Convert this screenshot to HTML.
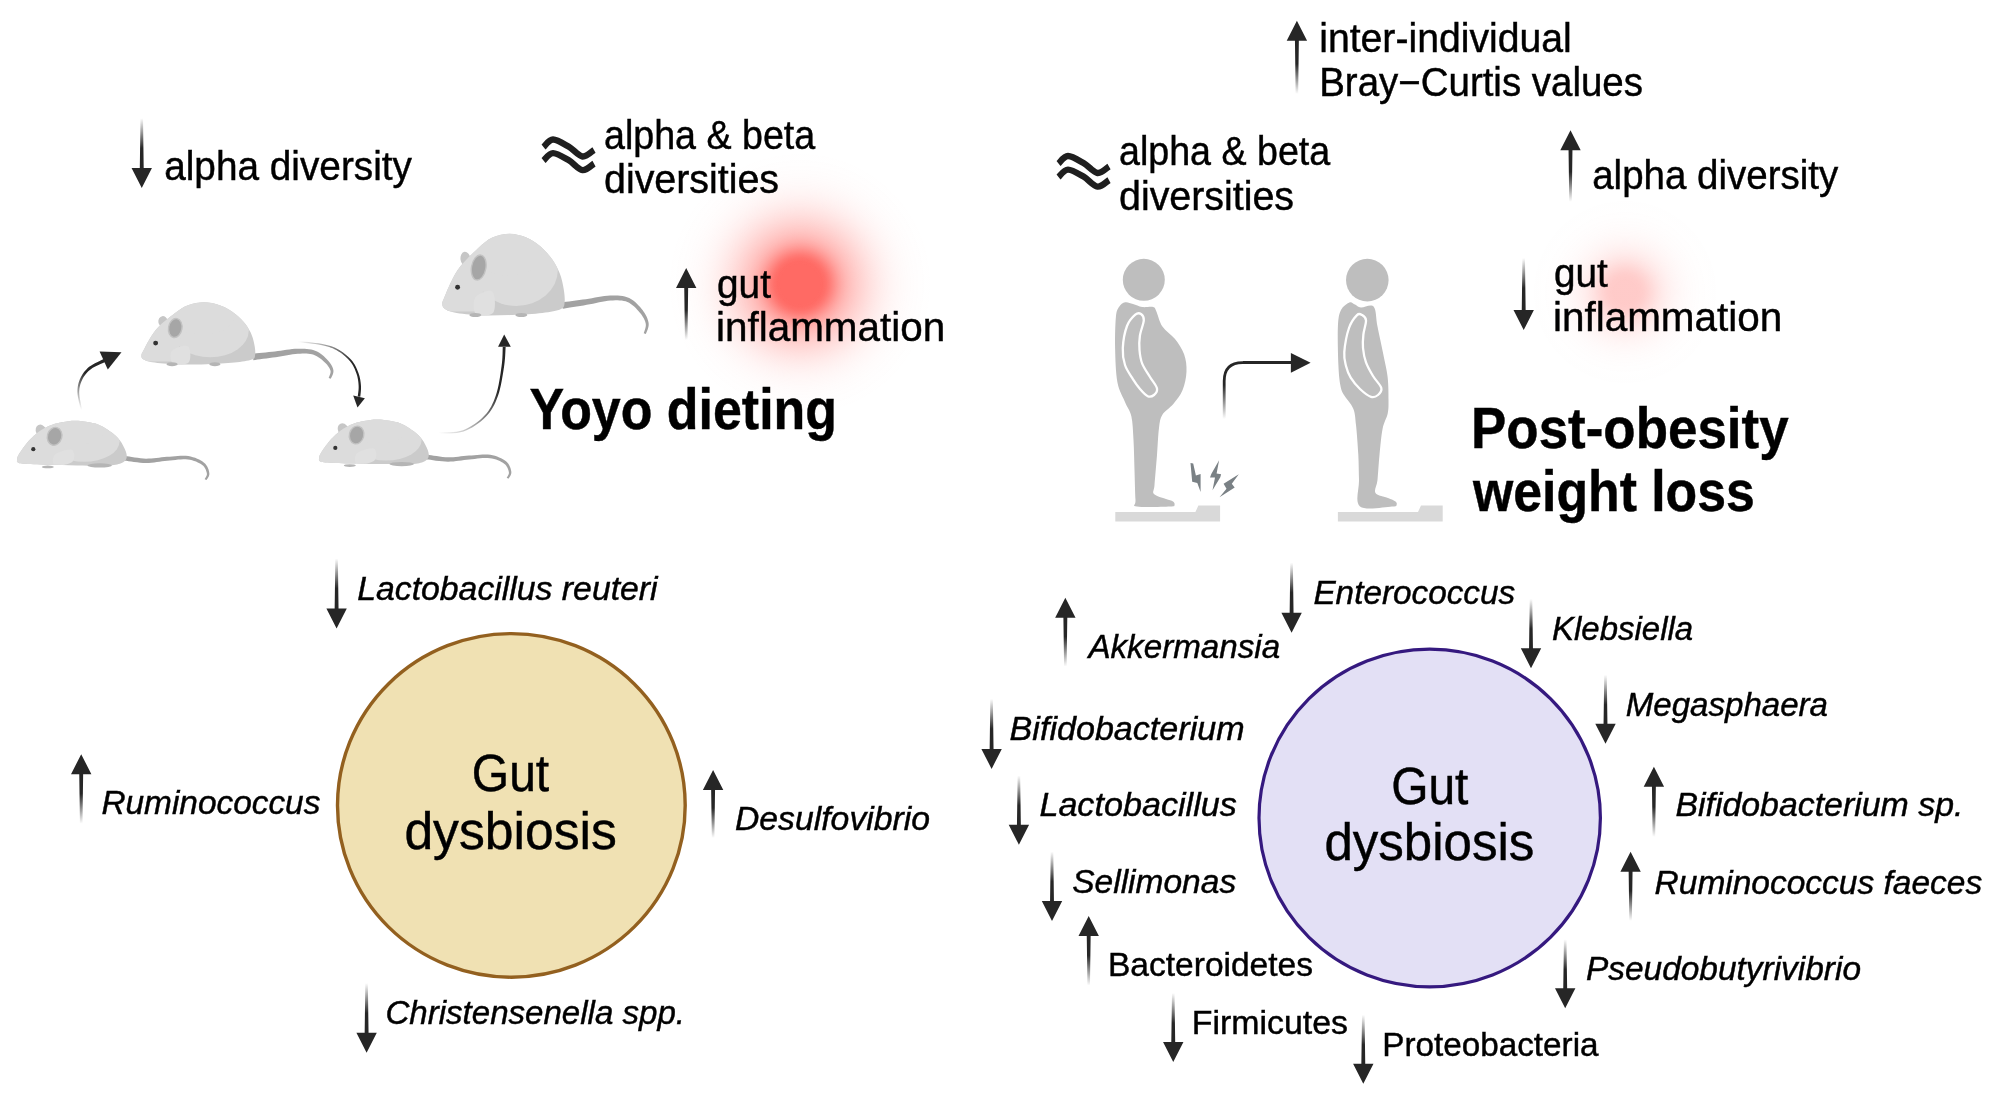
<!DOCTYPE html>
<html><head><meta charset="utf-8"><style>
html,body{margin:0;padding:0;background:#fff;width:2000px;height:1096px;overflow:hidden}
svg{display:block;font-family:"Liberation Sans",sans-serif;will-change:transform}
</style></head><body>
<svg width="2000" height="1096" viewBox="0 0 2000 1096">
<defs>
<radialGradient id="glowL" cx="0.5" cy="0.5" r="0.5">
<stop offset="0.000" stop-color="#ff6a64" stop-opacity="1.000"/>
<stop offset="0.025" stop-color="#ff6a64" stop-opacity="1.000"/>
<stop offset="0.050" stop-color="#ff6a64" stop-opacity="1.000"/>
<stop offset="0.075" stop-color="#ff6a64" stop-opacity="1.000"/>
<stop offset="0.100" stop-color="#ff6a64" stop-opacity="1.000"/>
<stop offset="0.125" stop-color="#ff6a64" stop-opacity="1.000"/>
<stop offset="0.150" stop-color="#ff6a64" stop-opacity="1.000"/>
<stop offset="0.175" stop-color="#ff6a64" stop-opacity="0.994"/>
<stop offset="0.200" stop-color="#ff6a64" stop-opacity="0.955"/>
<stop offset="0.225" stop-color="#ff6a64" stop-opacity="0.885"/>
<stop offset="0.250" stop-color="#ff6a64" stop-opacity="0.798"/>
<stop offset="0.275" stop-color="#ff6a64" stop-opacity="0.707"/>
<stop offset="0.300" stop-color="#ff6a64" stop-opacity="0.622"/>
<stop offset="0.325" stop-color="#ff6a64" stop-opacity="0.549"/>
<stop offset="0.350" stop-color="#ff6a64" stop-opacity="0.487"/>
<stop offset="0.375" stop-color="#ff6a64" stop-opacity="0.436"/>
<stop offset="0.400" stop-color="#ff6a64" stop-opacity="0.392"/>
<stop offset="0.425" stop-color="#ff6a64" stop-opacity="0.353"/>
<stop offset="0.450" stop-color="#ff6a64" stop-opacity="0.317"/>
<stop offset="0.475" stop-color="#ff6a64" stop-opacity="0.283"/>
<stop offset="0.500" stop-color="#ff6a64" stop-opacity="0.251"/>
<stop offset="0.525" stop-color="#ff6a64" stop-opacity="0.220"/>
<stop offset="0.550" stop-color="#ff6a64" stop-opacity="0.192"/>
<stop offset="0.575" stop-color="#ff6a64" stop-opacity="0.166"/>
<stop offset="0.600" stop-color="#ff6a64" stop-opacity="0.142"/>
<stop offset="0.625" stop-color="#ff6a64" stop-opacity="0.120"/>
<stop offset="0.650" stop-color="#ff6a64" stop-opacity="0.101"/>
<stop offset="0.675" stop-color="#ff6a64" stop-opacity="0.084"/>
<stop offset="0.700" stop-color="#ff6a64" stop-opacity="0.069"/>
<stop offset="0.725" stop-color="#ff6a64" stop-opacity="0.056"/>
<stop offset="0.750" stop-color="#ff6a64" stop-opacity="0.046"/>
<stop offset="0.775" stop-color="#ff6a64" stop-opacity="0.037"/>
<stop offset="0.800" stop-color="#ff6a64" stop-opacity="0.029"/>
<stop offset="0.825" stop-color="#ff6a64" stop-opacity="0.023"/>
<stop offset="0.850" stop-color="#ff6a64" stop-opacity="0.018"/>
<stop offset="0.875" stop-color="#ff6a64" stop-opacity="0.014"/>
<stop offset="0.900" stop-color="#ff6a64" stop-opacity="0.011"/>
<stop offset="0.925" stop-color="#ff6a64" stop-opacity="0.008"/>
<stop offset="0.950" stop-color="#ff6a64" stop-opacity="0.006"/>
<stop offset="0.975" stop-color="#ff6a64" stop-opacity="0.005"/>
<stop offset="1.000" stop-color="#ff6a64" stop-opacity="0.003"/>
</radialGradient>
<radialGradient id="glowR" cx="0.5" cy="0.5" r="0.5">
<stop offset="0.000" stop-color="#ff6e69" stop-opacity="0.360"/>
<stop offset="0.025" stop-color="#ff6e69" stop-opacity="0.360"/>
<stop offset="0.050" stop-color="#ff6e69" stop-opacity="0.360"/>
<stop offset="0.075" stop-color="#ff6e69" stop-opacity="0.360"/>
<stop offset="0.100" stop-color="#ff6e69" stop-opacity="0.360"/>
<stop offset="0.125" stop-color="#ff6e69" stop-opacity="0.358"/>
<stop offset="0.150" stop-color="#ff6e69" stop-opacity="0.347"/>
<stop offset="0.175" stop-color="#ff6e69" stop-opacity="0.328"/>
<stop offset="0.200" stop-color="#ff6e69" stop-opacity="0.302"/>
<stop offset="0.225" stop-color="#ff6e69" stop-opacity="0.273"/>
<stop offset="0.250" stop-color="#ff6e69" stop-opacity="0.242"/>
<stop offset="0.275" stop-color="#ff6e69" stop-opacity="0.211"/>
<stop offset="0.300" stop-color="#ff6e69" stop-opacity="0.182"/>
<stop offset="0.325" stop-color="#ff6e69" stop-opacity="0.157"/>
<stop offset="0.350" stop-color="#ff6e69" stop-opacity="0.134"/>
<stop offset="0.375" stop-color="#ff6e69" stop-opacity="0.114"/>
<stop offset="0.400" stop-color="#ff6e69" stop-opacity="0.097"/>
<stop offset="0.425" stop-color="#ff6e69" stop-opacity="0.082"/>
<stop offset="0.450" stop-color="#ff6e69" stop-opacity="0.069"/>
<stop offset="0.475" stop-color="#ff6e69" stop-opacity="0.058"/>
<stop offset="0.500" stop-color="#ff6e69" stop-opacity="0.048"/>
<stop offset="0.525" stop-color="#ff6e69" stop-opacity="0.040"/>
<stop offset="0.550" stop-color="#ff6e69" stop-opacity="0.032"/>
<stop offset="0.575" stop-color="#ff6e69" stop-opacity="0.026"/>
<stop offset="0.600" stop-color="#ff6e69" stop-opacity="0.021"/>
<stop offset="0.625" stop-color="#ff6e69" stop-opacity="0.017"/>
<stop offset="0.650" stop-color="#ff6e69" stop-opacity="0.013"/>
<stop offset="0.675" stop-color="#ff6e69" stop-opacity="0.010"/>
<stop offset="0.700" stop-color="#ff6e69" stop-opacity="0.008"/>
<stop offset="0.725" stop-color="#ff6e69" stop-opacity="0.006"/>
<stop offset="0.750" stop-color="#ff6e69" stop-opacity="0.004"/>
<stop offset="0.775" stop-color="#ff6e69" stop-opacity="0.003"/>
<stop offset="0.800" stop-color="#ff6e69" stop-opacity="0.002"/>
<stop offset="0.825" stop-color="#ff6e69" stop-opacity="0.002"/>
<stop offset="0.850" stop-color="#ff6e69" stop-opacity="0.001"/>
<stop offset="0.875" stop-color="#ff6e69" stop-opacity="0.001"/>
<stop offset="0.900" stop-color="#ff6e69" stop-opacity="0.001"/>
<stop offset="0.925" stop-color="#ff6e69" stop-opacity="0.000"/>
<stop offset="0.950" stop-color="#ff6e69" stop-opacity="0.000"/>
<stop offset="0.975" stop-color="#ff6e69" stop-opacity="0.000"/>
<stop offset="1.000" stop-color="#ff6e69" stop-opacity="0.000"/>
</radialGradient>
</defs>
<circle cx="800" cy="284" r="130" fill="url(#glowL)"/>
<circle cx="1625" cy="292" r="110" fill="url(#glowR)"/>
<ellipse cx="511.35" cy="805.4" rx="173.85" ry="171.8" fill="#f0e1b3" stroke="#93601f" stroke-width="3.4"/>
<ellipse cx="1429.7" cy="818" rx="170.7" ry="168.8" fill="#e3e0f5" stroke="#35197f" stroke-width="3.2"/>
<path d="M543.50,147.00 C545.08,145.75 548.83,139.58 553.00,139.50 C557.17,139.42 563.58,143.67 568.50,146.50 C573.42,149.33 578.25,155.92 582.50,156.50 C586.75,157.08 592.08,151.08 594.00,150.00" fill="none" stroke="#1f1f1f" stroke-width="6.4" stroke-linecap="butt"/>
<path d="M543.50,160.60 C545.08,159.35 548.83,153.18 553.00,153.10 C557.17,153.02 563.58,157.27 568.50,160.10 C573.42,162.93 578.25,169.52 582.50,170.10 C586.75,170.68 592.08,164.68 594.00,163.60" fill="none" stroke="#1f1f1f" stroke-width="6.4" stroke-linecap="butt"/>
<path d="M1058.50,163.50 C1060.08,162.25 1063.83,156.08 1068.00,156.00 C1072.17,155.92 1078.58,160.17 1083.50,163.00 C1088.42,165.83 1093.25,172.42 1097.50,173.00 C1101.75,173.58 1107.08,167.58 1109.00,166.50" fill="none" stroke="#1f1f1f" stroke-width="6.4" stroke-linecap="butt"/>
<path d="M1058.50,177.10 C1060.08,175.85 1063.83,169.68 1068.00,169.60 C1072.17,169.52 1078.58,173.77 1083.50,176.60 C1088.42,179.43 1093.25,186.02 1097.50,186.60 C1101.75,187.18 1107.08,181.18 1109.00,180.10" fill="none" stroke="#1f1f1f" stroke-width="6.4" stroke-linecap="butt"/>
<clipPath id="clip_m1"><path d="M17.10,459.80 C17.27,458.55 16.93,457.63 18.60,454.80 C20.27,451.97 24.20,446.27 27.10,442.80 C30.00,439.33 32.50,436.75 36.00,434.00 C39.50,431.25 43.80,428.25 48.10,426.30 C52.40,424.35 57.32,423.22 61.80,422.30 C66.28,421.38 70.45,420.80 75.00,420.80 C79.55,420.80 84.60,421.40 89.10,422.30 C93.60,423.20 97.35,423.75 102.00,426.20 C106.65,428.65 113.20,433.20 117.00,437.00 C120.80,440.80 123.20,445.50 124.80,449.00 C126.40,452.50 127.22,455.62 126.60,458.00 C125.98,460.38 124.35,462.03 121.10,463.30 C117.85,464.57 114.43,465.25 107.10,465.60 C99.77,465.95 87.10,465.53 77.10,465.40 C67.10,465.27 56.10,465.07 47.10,464.80 C38.10,464.53 28.02,464.22 23.10,463.80 C18.18,463.38 18.60,462.97 17.60,462.30 C16.60,461.63 16.93,461.05 17.10,459.80 Z"/></clipPath>
<polygon points="124.77,460.68 126.38,460.87 128.52,461.17 131.09,461.54 133.97,461.94 137.02,462.32 140.14,462.65 143.19,462.88 146.07,462.97 148.81,462.89 151.52,462.69 154.20,462.40 156.86,462.05 159.49,461.68 162.09,461.31 164.67,460.99 167.27,460.73 169.94,460.48 172.67,460.18 175.41,459.88 178.12,459.61 180.75,459.40 183.28,459.29 185.67,459.31 187.88,459.49 189.99,459.83 192.07,460.31 194.08,460.91 195.99,461.61 197.79,462.38 199.44,463.22 200.92,464.08 202.18,464.95 203.22,465.84 204.10,466.84 204.84,467.94 205.47,469.09 205.97,470.27 206.37,471.42 206.67,472.51 206.87,473.44 206.93,474.19 206.81,474.93 206.55,475.72 206.18,476.50 205.76,477.26 205.34,477.97 204.96,478.61 204.71,479.13 206.49,480.07 206.73,479.66 207.11,479.12 207.61,478.42 208.14,477.58 208.65,476.63 209.08,475.56 209.33,474.38 209.33,473.16 209.14,471.97 208.85,470.72 208.46,469.37 207.92,467.97 207.23,466.56 206.36,465.17 205.29,463.84 204.02,462.65 202.57,461.58 200.94,460.56 199.15,459.59 197.21,458.68 195.13,457.86 192.95,457.14 190.67,456.56 188.32,456.11 185.86,455.86 183.26,455.78 180.57,455.83 177.83,455.99 175.07,456.21 172.31,456.45 169.60,456.68 166.93,456.87 164.28,457.08 161.61,457.36 158.96,457.67 156.34,457.98 153.75,458.27 151.18,458.49 148.64,458.62 146.13,458.63 143.47,458.49 140.58,458.22 137.58,457.85 134.61,457.41 131.78,456.97 129.23,456.54 127.06,456.18 125.43,455.92" fill="#a2a2a2"/>
<ellipse cx="41.10" cy="430.80" rx="5.20" ry="6.40" transform="rotate(-25 41.10 430.80)" fill="#c6c6c6"/>
<path d="M17.10,459.80 C17.27,458.55 16.93,457.63 18.60,454.80 C20.27,451.97 24.20,446.27 27.10,442.80 C30.00,439.33 32.50,436.75 36.00,434.00 C39.50,431.25 43.80,428.25 48.10,426.30 C52.40,424.35 57.32,423.22 61.80,422.30 C66.28,421.38 70.45,420.80 75.00,420.80 C79.55,420.80 84.60,421.40 89.10,422.30 C93.60,423.20 97.35,423.75 102.00,426.20 C106.65,428.65 113.20,433.20 117.00,437.00 C120.80,440.80 123.20,445.50 124.80,449.00 C126.40,452.50 127.22,455.62 126.60,458.00 C125.98,460.38 124.35,462.03 121.10,463.30 C117.85,464.57 114.43,465.25 107.10,465.60 C99.77,465.95 87.10,465.53 77.10,465.40 C67.10,465.27 56.10,465.07 47.10,464.80 C38.10,464.53 28.02,464.22 23.10,463.80 C18.18,463.38 18.60,462.97 17.60,462.30 C16.60,461.63 16.93,461.05 17.10,459.80 Z" fill="#cbcbcb"/>
<g clip-path="url(#clip_m1)">
<ellipse cx="84.10" cy="441.30" rx="35.50" ry="20.50" fill="#dcdcdc"/>
<ellipse cx="76.10" cy="432.07" rx="28.40" ry="12.30" fill="#dcdcdc"/>
<path d="M12.10,457.80 L37.10,379.80 L65.10,379.80 L57.10,453.80 L53.10,467.80 L12.10,467.80 Z" fill="#dcdcdc"/>
<path d="M55.00,454.50 C57.80,451.90 68.90,448.50 71.80,449.70 C74.70,450.90 75.20,459.10 72.40,461.70 C69.60,464.30 57.90,466.50 55.00,465.30 C52.10,464.10 52.20,457.10 55.00,454.50 Z" fill="#e0e0e0"/>
</g>
<ellipse cx="54.60" cy="436.30" rx="7.20" ry="9.00" transform="rotate(15 54.60 436.30)" fill="#a6a6a6" stroke="#c2c2c2" stroke-width="1.4"/>
<ellipse cx="47.80" cy="466.90" rx="6.00" ry="1.40" fill="#b5b5b5"/>
<ellipse cx="99.70" cy="465.40" rx="12.30" ry="2.10" fill="#b5b5b5"/>
<circle cx="33.30" cy="449.20" r="2.10" fill="#333"/>
<clipPath id="clip_m3"><path d="M319.10,458.50 C319.27,457.25 318.93,456.33 320.60,453.50 C322.27,450.67 326.20,444.97 329.10,441.50 C332.00,438.03 334.50,435.45 338.00,432.70 C341.50,429.95 345.80,426.95 350.10,425.00 C354.40,423.05 359.32,421.92 363.80,421.00 C368.28,420.08 372.45,419.50 377.00,419.50 C381.55,419.50 386.60,420.10 391.10,421.00 C395.60,421.90 399.35,422.45 404.00,424.90 C408.65,427.35 415.20,431.90 419.00,435.70 C422.80,439.50 425.20,444.20 426.80,447.70 C428.40,451.20 429.22,454.32 428.60,456.70 C427.98,459.08 426.35,460.73 423.10,462.00 C419.85,463.27 416.43,463.95 409.10,464.30 C401.77,464.65 389.10,464.23 379.10,464.10 C369.10,463.97 358.10,463.77 349.10,463.50 C340.10,463.23 330.02,462.92 325.10,462.50 C320.18,462.08 320.60,461.67 319.60,461.00 C318.60,460.33 318.93,459.75 319.10,458.50 Z"/></clipPath>
<polygon points="426.77,459.38 428.38,459.57 430.52,459.87 433.09,460.24 435.97,460.64 439.02,461.02 442.14,461.35 445.19,461.58 448.07,461.67 450.81,461.59 453.52,461.39 456.20,461.10 458.86,460.75 461.49,460.38 464.09,460.01 466.67,459.69 469.27,459.43 471.94,459.18 474.67,458.88 477.41,458.58 480.12,458.31 482.75,458.10 485.28,457.99 487.67,458.01 489.88,458.19 491.99,458.53 494.07,459.01 496.08,459.61 497.99,460.31 499.79,461.08 501.44,461.92 502.92,462.78 504.18,463.65 505.22,464.54 506.10,465.54 506.84,466.64 507.47,467.79 507.97,468.97 508.37,470.12 508.67,471.21 508.87,472.14 508.93,472.89 508.81,473.63 508.55,474.42 508.18,475.20 507.76,475.96 507.34,476.67 506.96,477.31 506.71,477.83 508.49,478.77 508.73,478.36 509.11,477.82 509.61,477.12 510.14,476.28 510.65,475.33 511.08,474.26 511.33,473.08 511.33,471.86 511.14,470.67 510.85,469.42 510.46,468.07 509.92,466.67 509.23,465.26 508.36,463.87 507.29,462.54 506.02,461.35 504.57,460.28 502.94,459.26 501.15,458.29 499.21,457.38 497.13,456.56 494.95,455.84 492.67,455.26 490.32,454.81 487.86,454.56 485.26,454.48 482.57,454.53 479.83,454.69 477.07,454.91 474.31,455.15 471.60,455.38 468.93,455.57 466.28,455.78 463.61,456.06 460.96,456.37 458.34,456.68 455.75,456.97 453.18,457.19 450.64,457.32 448.13,457.33 445.47,457.19 442.58,456.92 439.58,456.55 436.61,456.11 433.78,455.67 431.23,455.24 429.06,454.88 427.43,454.62" fill="#a2a2a2"/>
<ellipse cx="343.10" cy="429.50" rx="5.20" ry="6.40" transform="rotate(-25 343.10 429.50)" fill="#c6c6c6"/>
<path d="M319.10,458.50 C319.27,457.25 318.93,456.33 320.60,453.50 C322.27,450.67 326.20,444.97 329.10,441.50 C332.00,438.03 334.50,435.45 338.00,432.70 C341.50,429.95 345.80,426.95 350.10,425.00 C354.40,423.05 359.32,421.92 363.80,421.00 C368.28,420.08 372.45,419.50 377.00,419.50 C381.55,419.50 386.60,420.10 391.10,421.00 C395.60,421.90 399.35,422.45 404.00,424.90 C408.65,427.35 415.20,431.90 419.00,435.70 C422.80,439.50 425.20,444.20 426.80,447.70 C428.40,451.20 429.22,454.32 428.60,456.70 C427.98,459.08 426.35,460.73 423.10,462.00 C419.85,463.27 416.43,463.95 409.10,464.30 C401.77,464.65 389.10,464.23 379.10,464.10 C369.10,463.97 358.10,463.77 349.10,463.50 C340.10,463.23 330.02,462.92 325.10,462.50 C320.18,462.08 320.60,461.67 319.60,461.00 C318.60,460.33 318.93,459.75 319.10,458.50 Z" fill="#cbcbcb"/>
<g clip-path="url(#clip_m3)">
<ellipse cx="386.10" cy="440.00" rx="35.50" ry="20.50" fill="#dcdcdc"/>
<ellipse cx="378.10" cy="430.77" rx="28.40" ry="12.30" fill="#dcdcdc"/>
<path d="M314.10,456.50 L339.10,378.50 L367.10,378.50 L359.10,452.50 L355.10,466.50 L314.10,466.50 Z" fill="#dcdcdc"/>
<path d="M357.00,453.20 C359.80,450.60 370.90,447.20 373.80,448.40 C376.70,449.60 377.20,457.80 374.40,460.40 C371.60,463.00 359.90,465.20 357.00,464.00 C354.10,462.80 354.20,455.80 357.00,453.20 Z" fill="#e0e0e0"/>
</g>
<ellipse cx="356.60" cy="435.00" rx="7.20" ry="9.00" transform="rotate(15 356.60 435.00)" fill="#a6a6a6" stroke="#c2c2c2" stroke-width="1.4"/>
<ellipse cx="349.80" cy="465.60" rx="6.00" ry="1.40" fill="#b5b5b5"/>
<ellipse cx="401.70" cy="464.10" rx="12.30" ry="2.10" fill="#b5b5b5"/>
<circle cx="335.30" cy="447.90" r="2.10" fill="#333"/>
<clipPath id="clip_m4"><path d="M442.30,303.50 C442.30,301.67 442.80,301.17 444.30,297.50 C445.80,293.83 448.58,286.73 451.30,281.50 C454.02,276.27 456.17,271.60 460.60,266.10 C465.03,260.60 472.62,253.27 477.90,248.50 C483.18,243.73 486.98,239.97 492.30,237.50 C497.62,235.03 504.13,233.70 509.80,233.70 C515.47,233.70 521.27,235.45 526.30,237.50 C531.33,239.55 535.67,242.33 540.00,246.00 C544.33,249.67 549.00,254.92 552.30,259.50 C555.60,264.08 557.90,268.60 559.80,273.50 C561.70,278.40 562.90,284.05 563.70,288.90 C564.50,293.75 565.05,299.25 564.60,302.60 C564.15,305.95 564.72,307.27 561.00,309.00 C557.28,310.73 550.42,312.00 542.30,313.00 C534.18,314.00 522.58,314.60 512.30,315.00 C502.02,315.40 490.27,315.82 480.60,315.40 C470.93,314.98 460.35,313.65 454.30,312.50 C448.25,311.35 446.30,310.00 444.30,308.50 C442.30,307.00 442.30,305.33 442.30,303.50 Z"/></clipPath>
<polygon points="562.76,308.72 564.61,308.41 567.06,308.01 569.98,307.55 573.24,307.04 576.68,306.50 580.17,305.94 583.57,305.39 586.76,304.85 589.85,304.28 592.98,303.65 596.10,302.98 599.19,302.32 602.20,301.71 605.11,301.18 607.86,300.78 610.45,300.53 612.94,300.39 615.34,300.30 617.62,300.29 619.78,300.38 621.83,300.57 623.78,300.90 625.64,301.36 627.42,301.99 629.14,302.82 630.85,303.89 632.54,305.16 634.18,306.57 635.76,308.08 637.24,309.63 638.62,311.17 639.88,312.63 641.00,314.03 642.02,315.44 642.93,316.88 643.74,318.31 644.44,319.73 645.01,321.12 645.45,322.45 645.75,323.69 645.87,324.89 645.78,326.18 645.52,327.54 645.15,328.90 644.73,330.20 644.32,331.40 643.96,332.45 643.75,333.27 645.85,333.93 646.12,333.22 646.54,332.26 647.05,331.07 647.58,329.70 648.08,328.21 648.48,326.61 648.69,324.96 648.65,323.31 648.37,321.72 647.94,320.13 647.38,318.51 646.68,316.86 645.86,315.22 644.92,313.58 643.87,311.95 642.72,310.37 641.47,308.78 640.09,307.10 638.57,305.38 636.93,303.68 635.17,302.03 633.28,300.50 631.29,299.14 629.18,298.01 627.02,297.14 624.80,296.49 622.53,296.01 620.20,295.69 617.80,295.50 615.34,295.41 612.80,295.41 610.15,295.47 607.32,295.65 604.34,296.00 601.28,296.46 598.16,296.99 595.03,297.57 591.91,298.14 588.84,298.68 585.84,299.15 582.70,299.58 579.30,300.04 575.81,300.51 572.36,300.96 569.10,301.38 566.17,301.75 563.70,302.06 561.84,302.28" fill="#a2a2a2"/>
<ellipse cx="465.50" cy="259.00" rx="5.00" ry="7.20" transform="rotate(-8 465.50 259.00)" fill="#c6c6c6"/>
<path d="M442.30,303.50 C442.30,301.67 442.80,301.17 444.30,297.50 C445.80,293.83 448.58,286.73 451.30,281.50 C454.02,276.27 456.17,271.60 460.60,266.10 C465.03,260.60 472.62,253.27 477.90,248.50 C483.18,243.73 486.98,239.97 492.30,237.50 C497.62,235.03 504.13,233.70 509.80,233.70 C515.47,233.70 521.27,235.45 526.30,237.50 C531.33,239.55 535.67,242.33 540.00,246.00 C544.33,249.67 549.00,254.92 552.30,259.50 C555.60,264.08 557.90,268.60 559.80,273.50 C561.70,278.40 562.90,284.05 563.70,288.90 C564.50,293.75 565.05,299.25 564.60,302.60 C564.15,305.95 564.72,307.27 561.00,309.00 C557.28,310.73 550.42,312.00 542.30,313.00 C534.18,314.00 522.58,314.60 512.30,315.00 C502.02,315.40 490.27,315.82 480.60,315.40 C470.93,314.98 460.35,313.65 454.30,312.50 C448.25,311.35 446.30,310.00 444.30,308.50 C442.30,307.00 442.30,305.33 442.30,303.50 Z" fill="#cbcbcb"/>
<g clip-path="url(#clip_m4)">
<ellipse cx="516.30" cy="270.50" rx="41.50" ry="35.50" fill="#dcdcdc"/>
<ellipse cx="508.30" cy="254.53" rx="33.20" ry="21.30" fill="#dcdcdc"/>
<path d="M437.30,301.50 L462.30,223.50 L490.30,223.50 L482.30,297.50 L478.30,311.50 L437.30,311.50 Z" fill="#dcdcdc"/>
<path d="M475.30,297.50 C477.97,293.67 489.30,289.00 492.30,291.50 C495.30,294.00 495.97,308.67 493.30,312.50 C490.63,316.33 479.30,317.00 476.30,314.50 C473.30,312.00 472.63,301.33 475.30,297.50 Z" fill="#e0e0e0"/>
</g>
<ellipse cx="478.70" cy="267.50" rx="7.20" ry="12.60" transform="rotate(10 478.70 267.50)" fill="#a6a6a6" stroke="#c2c2c2" stroke-width="1.4"/>
<ellipse cx="475.30" cy="315.00" rx="6.00" ry="2.00" fill="#b5b5b5"/>
<ellipse cx="521.30" cy="315.00" rx="6.00" ry="2.00" fill="#b5b5b5"/>
<circle cx="457.60" cy="287.30" r="2.45" fill="#333"/>
<clipPath id="clip_m2"><path d="M141.40,355.40 C141.40,354.01 141.87,353.63 143.26,350.84 C144.66,348.05 147.24,342.66 149.77,338.68 C152.30,334.70 154.30,331.16 158.42,326.98 C162.54,322.80 169.59,317.22 174.51,313.60 C179.42,309.98 182.96,307.11 187.90,305.24 C192.84,303.37 198.91,302.35 204.18,302.35 C209.45,302.35 214.84,303.68 219.52,305.24 C224.20,306.80 228.23,308.91 232.26,311.70 C236.29,314.49 240.63,318.48 243.70,321.96 C246.77,325.44 248.91,328.88 250.68,332.60 C252.44,336.32 253.56,340.62 254.30,344.30 C255.05,347.99 255.56,352.17 255.14,354.72 C254.72,357.26 255.25,358.26 251.79,359.58 C248.33,360.90 241.95,361.86 234.40,362.62 C226.85,363.38 216.06,363.84 206.50,364.14 C196.94,364.44 186.01,364.76 177.02,364.44 C168.03,364.13 158.19,363.11 152.56,362.24 C146.93,361.37 145.12,360.34 143.26,359.20 C141.40,358.06 141.40,356.79 141.40,355.40 Z"/></clipPath>
<polygon points="253.38,360.15 255.09,359.90 257.38,359.59 260.10,359.23 263.12,358.83 266.33,358.41 269.57,357.97 272.74,357.54 275.70,357.13 278.56,356.68 281.47,356.19 284.38,355.67 287.25,355.16 290.06,354.68 292.77,354.27 295.34,353.95 297.76,353.75 300.09,353.63 302.33,353.55 304.46,353.54 306.48,353.59 308.40,353.73 310.23,353.97 311.98,354.32 313.64,354.78 315.24,355.41 316.83,356.21 318.39,357.15 319.91,358.21 321.36,359.34 322.73,360.50 324.01,361.65 325.16,362.74 326.20,363.78 327.13,364.83 327.97,365.89 328.71,366.95 329.34,367.99 329.85,369.00 330.25,369.97 330.52,370.83 330.62,371.64 330.55,372.53 330.33,373.52 330.00,374.53 329.61,375.51 329.23,376.42 328.90,377.24 328.70,377.88 330.75,378.67 331.00,378.15 331.38,377.44 331.86,376.54 332.37,375.49 332.85,374.32 333.23,373.07 333.44,371.72 333.40,370.37 333.12,369.08 332.71,367.82 332.17,366.55 331.51,365.26 330.73,363.98 329.85,362.70 328.85,361.44 327.78,360.22 326.60,358.99 325.31,357.69 323.89,356.37 322.35,355.06 320.70,353.79 318.94,352.61 317.07,351.56 315.12,350.70 313.12,350.03 311.07,349.52 308.98,349.15 306.82,348.90 304.60,348.74 302.32,348.67 299.97,348.65 297.52,348.69 294.90,348.82 292.14,349.06 289.30,349.40 286.41,349.80 283.49,350.23 280.59,350.65 277.73,351.05 274.94,351.39 272.02,351.71 268.86,352.05 265.61,352.40 262.41,352.73 259.37,353.04 256.65,353.31 254.35,353.53 252.62,353.69" fill="#a2a2a2"/>
<ellipse cx="162.98" cy="321.58" rx="4.65" ry="5.47" transform="rotate(-8 162.98 321.58)" fill="#c6c6c6"/>
<path d="M141.40,355.40 C141.40,354.01 141.87,353.63 143.26,350.84 C144.66,348.05 147.24,342.66 149.77,338.68 C152.30,334.70 154.30,331.16 158.42,326.98 C162.54,322.80 169.59,317.22 174.51,313.60 C179.42,309.98 182.96,307.11 187.90,305.24 C192.84,303.37 198.91,302.35 204.18,302.35 C209.45,302.35 214.84,303.68 219.52,305.24 C224.20,306.80 228.23,308.91 232.26,311.70 C236.29,314.49 240.63,318.48 243.70,321.96 C246.77,325.44 248.91,328.88 250.68,332.60 C252.44,336.32 253.56,340.62 254.30,344.30 C255.05,347.99 255.56,352.17 255.14,354.72 C254.72,357.26 255.25,358.26 251.79,359.58 C248.33,360.90 241.95,361.86 234.40,362.62 C226.85,363.38 216.06,363.84 206.50,364.14 C196.94,364.44 186.01,364.76 177.02,364.44 C168.03,364.13 158.19,363.11 152.56,362.24 C146.93,361.37 145.12,360.34 143.26,359.20 C141.40,358.06 141.40,356.79 141.40,355.40 Z" fill="#cbcbcb"/>
<g clip-path="url(#clip_m2)">
<ellipse cx="210.22" cy="330.32" rx="38.59" ry="26.98" fill="#dcdcdc"/>
<ellipse cx="202.78" cy="318.18" rx="30.88" ry="16.19" fill="#dcdcdc"/>
<path d="M136.75,353.88 L160.00,294.60 L186.04,294.60 L178.60,350.84 L174.88,361.48 L136.75,361.48 Z" fill="#dcdcdc"/>
<path d="M172.09,350.84 C174.57,347.93 185.11,344.38 187.90,346.28 C190.69,348.18 191.31,359.33 188.83,362.24 C186.35,365.15 175.81,365.66 173.02,363.76 C170.23,361.86 169.61,353.75 172.09,350.84 Z" fill="#e0e0e0"/>
</g>
<ellipse cx="175.25" cy="328.04" rx="6.70" ry="9.58" transform="rotate(10 175.25 328.04)" fill="#a6a6a6" stroke="#c2c2c2" stroke-width="1.4"/>
<ellipse cx="172.09" cy="364.14" rx="5.58" ry="2.00" fill="#b5b5b5"/>
<ellipse cx="214.87" cy="364.14" rx="5.58" ry="2.00" fill="#b5b5b5"/>
<circle cx="155.63" cy="343.09" r="2.45" fill="#333"/>
<linearGradient id="ca1" gradientUnits="userSpaceOnUse" x1="81.40" y1="409.80" x2="96.41" y2="377.75"><stop offset="0" stop-color="#262626" stop-opacity="0"/><stop offset="1" stop-color="#262626" stop-opacity="1"/></linearGradient>
<polygon points="81.99,409.68 81.74,408.26 81.35,406.35 80.87,404.09 80.37,401.59 79.90,399.00 79.50,396.45 79.24,394.07 79.17,391.99 79.27,390.14 79.47,388.37 79.77,386.67 80.16,385.04 80.63,383.46 81.19,381.94 81.83,380.46 82.53,379.01 83.30,377.60 84.14,376.24 85.06,374.94 86.05,373.68 87.12,372.47 88.28,371.31 89.53,370.19 90.86,369.14 92.41,368.10 94.27,367.04 96.33,366.00 98.45,365.01 100.52,364.08 102.43,363.26 104.04,362.57 105.24,362.03 103.76,358.97 102.64,359.55 101.08,360.29 99.20,361.18 97.11,362.18 94.95,363.27 92.82,364.43 90.84,365.64 89.14,366.86 87.70,368.10 86.38,369.38 85.16,370.70 84.04,372.07 83.01,373.49 82.08,374.95 81.23,376.45 80.47,377.99 79.78,379.57 79.17,381.19 78.64,382.84 78.19,384.55 77.84,386.31 77.60,388.14 77.45,390.03 77.43,392.01 77.57,394.22 77.91,396.68 78.38,399.28 78.93,401.89 79.50,404.39 80.04,406.65 80.50,408.53 80.81,409.92" fill="url(#ca1)"/>
<polygon points="121.50,352.30 99.60,351.60 107.80,369.40" fill="#262626"/>
<linearGradient id="ca2" gradientUnits="userSpaceOnUse" x1="297.80" y1="341.60" x2="337.58" y2="377.42"><stop offset="0" stop-color="#262626" stop-opacity="0"/><stop offset="1" stop-color="#262626" stop-opacity="1"/></linearGradient>
<polygon points="297.75,342.10 299.59,342.31 302.09,342.58 305.08,342.90 308.36,343.25 311.77,343.65 315.11,344.07 318.21,344.53 320.88,345.02 323.19,345.52 325.32,346.01 327.31,346.52 329.18,347.06 330.97,347.67 332.72,348.36 334.46,349.15 336.24,350.07 338.06,351.14 339.92,352.33 341.76,353.62 343.57,355.00 345.32,356.44 346.96,357.92 348.47,359.41 349.82,360.89 351.00,362.39 352.06,363.94 353.01,365.55 353.86,367.18 354.63,368.84 355.32,370.50 355.95,372.14 356.53,373.74 357.03,375.31 357.44,376.87 357.78,378.43 358.05,379.98 358.26,381.51 358.43,383.03 358.55,384.52 358.63,385.96 358.66,387.40 358.60,388.92 358.48,390.45 358.32,391.95 358.14,393.37 357.96,394.64 357.81,395.73 357.71,396.57 360.29,396.83 360.36,396.02 360.47,394.96 360.62,393.67 360.77,392.21 360.90,390.65 361.00,389.03 361.03,387.41 360.97,385.84 360.84,384.33 360.68,382.79 360.48,381.22 360.22,379.61 359.90,377.99 359.51,376.35 359.04,374.70 358.47,373.06 357.85,371.41 357.17,369.74 356.42,368.03 355.59,366.32 354.66,364.61 353.63,362.93 352.47,361.29 351.18,359.71 349.74,358.17 348.14,356.65 346.42,355.14 344.60,353.69 342.72,352.30 340.80,350.99 338.87,349.79 336.96,348.73 335.11,347.80 333.28,347.01 331.45,346.32 329.59,345.72 327.66,345.19 325.63,344.71 323.46,344.24 321.12,343.78 318.40,343.32 315.27,342.88 311.90,342.49 308.49,342.12 305.19,341.80 302.20,341.52 299.70,341.29 297.85,341.10" fill="url(#ca2)"/>
<polygon points="357.50,407.60 353.20,395.60 364.90,398.30" fill="#262626"/>
<linearGradient id="ca3" gradientUnits="userSpaceOnUse" x1="438.50" y1="433.00" x2="481.21" y2="377.10"><stop offset="0" stop-color="#262626" stop-opacity="0"/><stop offset="1" stop-color="#262626" stop-opacity="1"/></linearGradient>
<polygon points="438.52,433.50 440.45,433.44 443.03,433.44 446.12,433.45 449.55,433.41 453.17,433.25 456.81,432.91 460.31,432.33 463.52,431.45 466.54,430.26 469.56,428.81 472.57,427.14 475.51,425.29 478.35,423.30 481.04,421.19 483.55,419.02 485.84,416.81 487.88,414.56 489.73,412.24 491.39,409.84 492.90,407.34 494.28,404.72 495.56,401.98 496.76,399.10 497.91,396.05 499.00,392.70 499.97,389.05 500.85,385.19 501.64,381.25 502.34,377.32 502.98,373.51 503.54,369.93 504.05,366.68 504.48,363.61 504.80,360.60 505.04,357.71 505.22,354.99 505.35,352.51 505.46,350.33 505.55,348.50 505.65,347.08 502.75,346.92 502.70,348.37 502.65,350.23 502.60,352.40 502.52,354.86 502.39,357.53 502.20,360.37 501.92,363.32 501.55,366.32 501.09,369.56 500.58,373.14 500.00,376.93 499.35,380.83 498.62,384.73 497.80,388.52 496.89,392.10 495.89,395.35 494.81,398.34 493.68,401.17 492.49,403.85 491.20,406.39 489.79,408.82 488.23,411.15 486.50,413.40 484.56,415.59 482.39,417.76 479.98,419.92 477.38,422.01 474.63,423.99 471.78,425.84 468.87,427.51 465.96,428.96 463.08,430.15 460.02,431.03 456.64,431.64 453.08,432.01 449.51,432.22 446.10,432.31 443.02,432.35 440.42,432.39 438.48,432.50" fill="url(#ca3)"/>
<polygon points="504.20,334.40 498.10,346.80 510.80,346.80" fill="#262626"/>
<path d="M1115.3,512 L1195.4,512 L1198.4,505.6 L1220.1,505.6 L1220.1,521.4 L1115.3,521.4 Z" fill="#d9d9d9"/>
<path d="M1337.9,512 L1418.0,512 L1421.0,505.6 L1442.7,505.6 L1442.7,521.4 L1337.9,521.4 Z" fill="#d9d9d9"/>
<circle cx="1143.8" cy="279.8" r="21" fill="#bebebe"/>
<path d="M1125.20,302.30 C1127.53,301.80 1130.17,303.22 1133.00,304.00 C1135.83,304.78 1138.85,306.50 1142.20,307.00 C1145.55,307.50 1150.77,306.35 1153.10,307.00 C1155.43,307.65 1154.65,307.67 1156.20,310.90 C1157.75,314.13 1159.30,321.75 1162.40,326.40 C1165.50,331.05 1171.18,334.15 1174.80,338.80 C1178.42,343.45 1182.15,348.87 1184.10,354.30 C1186.05,359.73 1186.75,365.45 1186.50,371.40 C1186.25,377.35 1184.80,384.57 1182.60,390.00 C1180.40,395.43 1176.67,399.87 1173.30,404.00 C1169.93,408.13 1164.78,410.80 1162.40,414.80 C1160.02,418.80 1159.90,421.30 1159.00,428.00 C1158.10,434.70 1157.75,445.50 1157.00,455.00 C1156.25,464.50 1155.00,478.50 1154.50,485.00 C1154.00,491.50 1152.08,491.67 1154.00,494.00 C1155.92,496.33 1162.83,497.75 1166.00,499.00 C1169.17,500.25 1171.58,500.50 1173.00,501.50 C1174.42,502.50 1175.00,504.17 1174.50,505.00 C1174.00,505.83 1176.25,506.25 1170.00,506.50 C1163.75,506.75 1142.75,507.58 1137.00,506.50 C1131.25,505.42 1135.92,506.08 1135.50,500.00 C1135.08,493.92 1134.83,480.00 1134.50,470.00 C1134.17,460.00 1134.02,448.93 1133.50,440.00 C1132.98,431.07 1132.78,422.67 1131.40,416.40 C1130.02,410.13 1127.53,408.08 1125.20,402.40 C1122.87,396.72 1119.08,391.35 1117.40,382.30 C1115.72,373.25 1115.35,358.97 1115.10,348.10 C1114.85,337.23 1115.25,323.95 1115.90,317.10 C1116.55,310.25 1117.45,309.47 1119.00,307.00 C1120.55,304.53 1122.87,302.80 1125.20,302.30 Z" fill="#bebebe"/>
<path d="M1135.30,314.70 C1132.97,316.70 1129.08,320.43 1127.00,326.00 C1124.92,331.57 1123.13,341.60 1122.80,348.10 C1122.47,354.60 1123.32,359.83 1125.00,365.00 C1126.68,370.17 1130.40,375.10 1132.90,379.10 C1135.40,383.10 1137.53,386.15 1140.00,389.00 C1142.47,391.85 1145.37,395.20 1147.70,396.20 C1150.03,397.20 1152.45,396.28 1154.00,395.00 C1155.55,393.72 1157.67,391.50 1157.00,388.50 C1156.33,385.50 1152.47,381.15 1150.00,377.00 C1147.53,372.85 1143.95,368.10 1142.20,363.60 C1140.45,359.10 1139.88,354.65 1139.50,350.00 C1139.12,345.35 1139.18,340.67 1139.90,335.70 C1140.62,330.73 1143.62,323.82 1143.80,320.20 C1143.98,316.58 1142.42,314.92 1141.00,314.00 C1139.58,313.08 1137.63,312.70 1135.30,314.70 Z" fill="none" stroke="#ffffff" stroke-width="2.3"/>
<circle cx="1367.3" cy="280.1" r="21.3" fill="#bebebe"/>
<path d="M1349.40,302.40 C1351.73,301.48 1353.08,303.65 1355.00,304.50 C1356.92,305.35 1357.78,307.13 1360.90,307.50 C1364.02,307.87 1370.93,303.52 1373.70,306.70 C1376.47,309.88 1375.80,318.17 1377.50,326.60 C1379.20,335.03 1382.20,348.78 1383.90,357.30 C1385.60,365.82 1386.93,370.58 1387.70,377.70 C1388.47,384.82 1388.50,394.03 1388.50,400.00 C1388.50,405.97 1388.68,408.70 1387.70,413.50 C1386.72,418.30 1383.97,421.88 1382.60,428.80 C1381.23,435.72 1380.35,446.47 1379.50,455.00 C1378.65,463.53 1378.17,473.67 1377.50,480.00 C1376.83,486.33 1373.75,490.00 1375.50,493.00 C1377.25,496.00 1384.67,496.58 1388.00,498.00 C1391.33,499.42 1394.08,500.33 1395.50,501.50 C1396.92,502.67 1397.08,504.17 1396.50,505.00 C1395.92,505.83 1398.08,506.25 1392.00,506.50 C1385.92,506.75 1365.50,510.92 1360.00,506.50 C1354.50,502.08 1359.28,488.68 1359.00,480.00 C1358.72,471.32 1358.80,463.57 1358.30,454.40 C1357.80,445.23 1356.85,432.67 1356.00,425.00 C1355.15,417.33 1355.20,413.40 1353.20,408.40 C1351.20,403.40 1346.13,398.83 1344.00,395.00 C1341.87,391.17 1341.33,390.40 1340.40,385.40 C1339.47,380.40 1338.82,374.80 1338.40,365.00 C1337.98,355.20 1337.47,335.77 1337.90,326.60 C1338.33,317.43 1339.08,314.03 1341.00,310.00 C1342.92,305.97 1347.07,303.32 1349.40,302.40 Z" fill="#bebebe"/>
<path d="M1357.00,315.10 C1354.83,317.27 1351.12,321.82 1349.00,328.00 C1346.88,334.18 1344.80,345.87 1344.30,352.20 C1343.80,358.53 1344.93,361.75 1346.00,366.00 C1347.07,370.25 1348.37,373.87 1350.70,377.70 C1353.03,381.53 1356.60,385.80 1360.00,389.00 C1363.40,392.20 1368.10,395.90 1371.10,396.90 C1374.10,397.90 1376.30,396.48 1378.00,395.00 C1379.70,393.52 1382.13,391.17 1381.30,388.00 C1380.47,384.83 1375.55,380.27 1373.00,376.00 C1370.45,371.73 1367.67,367.07 1366.00,362.40 C1364.33,357.73 1363.43,352.68 1363.00,348.00 C1362.57,343.32 1362.90,338.92 1363.40,334.30 C1363.90,329.68 1366.23,323.52 1366.00,320.30 C1365.77,317.08 1363.50,315.87 1362.00,315.00 C1360.50,314.13 1359.17,312.93 1357.00,315.10 Z" fill="none" stroke="#ffffff" stroke-width="2.3"/>
<linearGradient id="hag" gradientUnits="userSpaceOnUse" x1="0" y1="419" x2="0" y2="385"><stop offset="0" stop-color="#262626" stop-opacity="0"/><stop offset="1" stop-color="#262626" stop-opacity="1"/></linearGradient>
<path d="M1224.2,419 L1224.2,381 Q1224.2,362.6 1242.6,362.6 L1292,362.6" fill="none" stroke="url(#hag)" stroke-width="2.8"/>
<path d="M1243,362.6 L1292,362.6" fill="none" stroke="#262626" stroke-width="3"/>
<polygon points="1310.6,362.8 1290.9,353.1 1290.9,372.8" fill="#262626"/>
<polygon points="1190.5,463 1193.2,463.6 1195.9,475.5 1200.6,474.1 1200.6,492 1197.3,482.9 1192.2,481.7" fill="#7a8185"/>
<polygon points="1219.1,460.3 1216.6,473.5 1221.1,474.3 1220.3,477.2 1212.5,490.3 1215,477.6 1210,477.4 1211.3,473.9" fill="#7a8185"/>
<polygon points="1238.8,474.3 1231.8,483.7 1234.7,487.4 1219.5,497.3 1226.5,488.7 1223.6,483.7" fill="#7a8185"/>
<linearGradient id="ag0" gradientUnits="userSpaceOnUse" x1="0" y1="118.20" x2="0" y2="148.20"><stop offset="0" stop-color="#262626" stop-opacity="0"/><stop offset="1" stop-color="#262626" stop-opacity="1"/></linearGradient>
<polygon points="140.50,118.20 143.00,118.20 143.70,168.00 151.95,168.00 141.75,188.00 131.55,168.00 139.80,168.00" fill="url(#ag0)"/>
<linearGradient id="ag1" gradientUnits="userSpaceOnUse" x1="0" y1="340.00" x2="0" y2="310.00"><stop offset="0" stop-color="#262626" stop-opacity="0"/><stop offset="1" stop-color="#262626" stop-opacity="1"/></linearGradient>
<polygon points="684.95,340.00 687.45,340.00 688.15,288.00 696.40,288.00 686.20,268.00 676.00,288.00 684.25,288.00" fill="url(#ag1)"/>
<linearGradient id="ag2" gradientUnits="userSpaceOnUse" x1="0" y1="558.50" x2="0" y2="588.50"><stop offset="0" stop-color="#262626" stop-opacity="0"/><stop offset="1" stop-color="#262626" stop-opacity="1"/></linearGradient>
<polygon points="335.35,558.50 337.85,558.50 338.55,608.50 346.80,608.50 336.60,628.50 326.40,608.50 334.65,608.50" fill="url(#ag2)"/>
<linearGradient id="ag3" gradientUnits="userSpaceOnUse" x1="0" y1="823.70" x2="0" y2="793.70"><stop offset="0" stop-color="#262626" stop-opacity="0"/><stop offset="1" stop-color="#262626" stop-opacity="1"/></linearGradient>
<polygon points="79.95,823.70 82.45,823.70 83.15,774.20 91.40,774.20 81.20,754.20 71.00,774.20 79.25,774.20" fill="url(#ag3)"/>
<linearGradient id="ag4" gradientUnits="userSpaceOnUse" x1="0" y1="838.00" x2="0" y2="808.00"><stop offset="0" stop-color="#262626" stop-opacity="0"/><stop offset="1" stop-color="#262626" stop-opacity="1"/></linearGradient>
<polygon points="711.85,838.00 714.35,838.00 715.05,790.00 723.30,790.00 713.10,770.00 702.90,790.00 711.15,790.00" fill="url(#ag4)"/>
<linearGradient id="ag5" gradientUnits="userSpaceOnUse" x1="0" y1="983.10" x2="0" y2="1013.10"><stop offset="0" stop-color="#262626" stop-opacity="0"/><stop offset="1" stop-color="#262626" stop-opacity="1"/></linearGradient>
<polygon points="365.35,983.10 367.85,983.10 368.55,1032.80 376.80,1032.80 366.60,1052.80 356.40,1032.80 364.65,1032.80" fill="url(#ag5)"/>
<linearGradient id="ag6" gradientUnits="userSpaceOnUse" x1="0" y1="93.90" x2="0" y2="63.90"><stop offset="0" stop-color="#262626" stop-opacity="0"/><stop offset="1" stop-color="#262626" stop-opacity="1"/></linearGradient>
<polygon points="1295.65,93.90 1298.15,93.90 1298.85,40.70 1307.10,40.70 1296.90,20.70 1286.70,40.70 1294.95,40.70" fill="url(#ag6)"/>
<linearGradient id="ag7" gradientUnits="userSpaceOnUse" x1="0" y1="201.75" x2="0" y2="171.75"><stop offset="0" stop-color="#262626" stop-opacity="0"/><stop offset="1" stop-color="#262626" stop-opacity="1"/></linearGradient>
<polygon points="1569.25,201.75 1571.75,201.75 1572.45,150.20 1580.70,150.20 1570.50,130.20 1560.30,150.20 1568.55,150.20" fill="url(#ag7)"/>
<linearGradient id="ag8" gradientUnits="userSpaceOnUse" x1="0" y1="258.00" x2="0" y2="288.00"><stop offset="0" stop-color="#262626" stop-opacity="0"/><stop offset="1" stop-color="#262626" stop-opacity="1"/></linearGradient>
<polygon points="1522.45,258.00 1524.95,258.00 1525.65,310.00 1533.90,310.00 1523.70,330.00 1513.50,310.00 1521.75,310.00" fill="url(#ag8)"/>
<linearGradient id="ag9" gradientUnits="userSpaceOnUse" x1="0" y1="666.60" x2="0" y2="636.60"><stop offset="0" stop-color="#262626" stop-opacity="0"/><stop offset="1" stop-color="#262626" stop-opacity="1"/></linearGradient>
<polygon points="1064.10,666.60 1066.60,666.60 1067.30,617.70 1075.55,617.70 1065.35,597.70 1055.15,617.70 1063.40,617.70" fill="url(#ag9)"/>
<linearGradient id="ag10" gradientUnits="userSpaceOnUse" x1="0" y1="562.60" x2="0" y2="592.60"><stop offset="0" stop-color="#262626" stop-opacity="0"/><stop offset="1" stop-color="#262626" stop-opacity="1"/></linearGradient>
<polygon points="1290.35,562.60 1292.85,562.60 1293.55,612.80 1301.80,612.80 1291.60,632.80 1281.40,612.80 1289.65,612.80" fill="url(#ag10)"/>
<linearGradient id="ag11" gradientUnits="userSpaceOnUse" x1="0" y1="598.85" x2="0" y2="628.85"><stop offset="0" stop-color="#262626" stop-opacity="0"/><stop offset="1" stop-color="#262626" stop-opacity="1"/></linearGradient>
<polygon points="1529.75,598.85 1532.25,598.85 1532.95,648.15 1541.20,648.15 1531.00,668.15 1520.80,648.15 1529.05,648.15" fill="url(#ag11)"/>
<linearGradient id="ag12" gradientUnits="userSpaceOnUse" x1="0" y1="674.75" x2="0" y2="704.75"><stop offset="0" stop-color="#262626" stop-opacity="0"/><stop offset="1" stop-color="#262626" stop-opacity="1"/></linearGradient>
<polygon points="1604.25,674.75 1606.75,674.75 1607.45,723.75 1615.70,723.75 1605.50,743.75 1595.30,723.75 1603.55,723.75" fill="url(#ag12)"/>
<linearGradient id="ag13" gradientUnits="userSpaceOnUse" x1="0" y1="836.90" x2="0" y2="806.90"><stop offset="0" stop-color="#262626" stop-opacity="0"/><stop offset="1" stop-color="#262626" stop-opacity="1"/></linearGradient>
<polygon points="1652.65,836.90 1655.15,836.90 1655.85,786.70 1664.10,786.70 1653.90,766.70 1643.70,786.70 1651.95,786.70" fill="url(#ag13)"/>
<linearGradient id="ag14" gradientUnits="userSpaceOnUse" x1="0" y1="920.90" x2="0" y2="890.90"><stop offset="0" stop-color="#262626" stop-opacity="0"/><stop offset="1" stop-color="#262626" stop-opacity="1"/></linearGradient>
<polygon points="1629.35,920.90 1631.85,920.90 1632.55,871.70 1640.80,871.70 1630.60,851.70 1620.40,871.70 1628.65,871.70" fill="url(#ag14)"/>
<linearGradient id="ag15" gradientUnits="userSpaceOnUse" x1="0" y1="939.35" x2="0" y2="969.35"><stop offset="0" stop-color="#262626" stop-opacity="0"/><stop offset="1" stop-color="#262626" stop-opacity="1"/></linearGradient>
<polygon points="1563.95,939.35 1566.45,939.35 1567.15,988.20 1575.40,988.20 1565.20,1008.20 1555.00,988.20 1563.25,988.20" fill="url(#ag15)"/>
<linearGradient id="ag16" gradientUnits="userSpaceOnUse" x1="0" y1="993.00" x2="0" y2="1023.00"><stop offset="0" stop-color="#262626" stop-opacity="0"/><stop offset="1" stop-color="#262626" stop-opacity="1"/></linearGradient>
<polygon points="1172.00,993.00 1174.50,993.00 1175.20,1042.00 1183.45,1042.00 1173.25,1062.00 1163.05,1042.00 1171.30,1042.00" fill="url(#ag16)"/>
<linearGradient id="ag17" gradientUnits="userSpaceOnUse" x1="0" y1="1014.75" x2="0" y2="1044.75"><stop offset="0" stop-color="#262626" stop-opacity="0"/><stop offset="1" stop-color="#262626" stop-opacity="1"/></linearGradient>
<polygon points="1362.05,1014.75 1364.55,1014.75 1365.25,1063.75 1373.50,1063.75 1363.30,1083.75 1353.10,1063.75 1361.35,1063.75" fill="url(#ag17)"/>
<linearGradient id="ag18" gradientUnits="userSpaceOnUse" x1="0" y1="698.80" x2="0" y2="728.80"><stop offset="0" stop-color="#262626" stop-opacity="0"/><stop offset="1" stop-color="#262626" stop-opacity="1"/></linearGradient>
<polygon points="990.35,698.80 992.85,698.80 993.55,748.90 1001.80,748.90 991.60,768.90 981.40,748.90 989.65,748.90" fill="url(#ag18)"/>
<linearGradient id="ag19" gradientUnits="userSpaceOnUse" x1="0" y1="775.40" x2="0" y2="805.40"><stop offset="0" stop-color="#262626" stop-opacity="0"/><stop offset="1" stop-color="#262626" stop-opacity="1"/></linearGradient>
<polygon points="1017.65,775.40 1020.15,775.40 1020.85,824.80 1029.10,824.80 1018.90,844.80 1008.70,824.80 1016.95,824.80" fill="url(#ag19)"/>
<linearGradient id="ag20" gradientUnits="userSpaceOnUse" x1="0" y1="851.50" x2="0" y2="881.50"><stop offset="0" stop-color="#262626" stop-opacity="0"/><stop offset="1" stop-color="#262626" stop-opacity="1"/></linearGradient>
<polygon points="1050.75,851.50 1053.25,851.50 1053.95,901.10 1062.20,901.10 1052.00,921.10 1041.80,901.10 1050.05,901.10" fill="url(#ag20)"/>
<linearGradient id="ag21" gradientUnits="userSpaceOnUse" x1="0" y1="985.60" x2="0" y2="955.60"><stop offset="0" stop-color="#262626" stop-opacity="0"/><stop offset="1" stop-color="#262626" stop-opacity="1"/></linearGradient>
<polygon points="1087.45,985.60 1089.95,985.60 1090.65,936.00 1098.90,936.00 1088.70,916.00 1078.50,936.00 1086.75,936.00" fill="url(#ag21)"/>
<g fill="#000000" stroke="#000000" stroke-width="0.45" font-family="'Liberation Sans', sans-serif">
<text x="164.20" y="179.70" font-size="40" font-weight="normal" font-style="normal" textLength="247.80" lengthAdjust="spacingAndGlyphs">alpha diversity</text>
<text x="604.00" y="149.30" font-size="40" font-weight="normal" font-style="normal" textLength="211.20" lengthAdjust="spacingAndGlyphs">alpha &amp; beta</text>
<text x="604.00" y="192.50" font-size="40" font-weight="normal" font-style="normal" textLength="175.00" lengthAdjust="spacingAndGlyphs">diversities</text>
<text x="717.00" y="298.00" font-size="40" font-weight="normal" font-style="normal" textLength="54.00" lengthAdjust="spacingAndGlyphs">gut</text>
<text x="716.00" y="340.70" font-size="40" font-weight="normal" font-style="normal" textLength="229.20" lengthAdjust="spacingAndGlyphs">inflammation</text>
<text x="1319.20" y="51.90" font-size="40" font-weight="normal" font-style="normal" textLength="252.60" lengthAdjust="spacingAndGlyphs">inter-individual</text>
<text x="1319.20" y="95.80" font-size="40" font-weight="normal" font-style="normal" textLength="323.80" lengthAdjust="spacingAndGlyphs">Bray−Curtis values</text>
<text x="1119.00" y="165.20" font-size="40" font-weight="normal" font-style="normal" textLength="211.20" lengthAdjust="spacingAndGlyphs">alpha &amp; beta</text>
<text x="1119.00" y="209.75" font-size="40" font-weight="normal" font-style="normal" textLength="175.00" lengthAdjust="spacingAndGlyphs">diversities</text>
<text x="1592.20" y="189.00" font-size="40" font-weight="normal" font-style="normal" textLength="246.00" lengthAdjust="spacingAndGlyphs">alpha diversity</text>
<text x="1554.00" y="287.25" font-size="40" font-weight="normal" font-style="normal" textLength="53.80" lengthAdjust="spacingAndGlyphs">gut</text>
<text x="1553.00" y="330.75" font-size="40" font-weight="normal" font-style="normal" textLength="229.20" lengthAdjust="spacingAndGlyphs">inflammation</text>
<text x="529.40" y="428.60" font-size="56.5" font-weight="bold" font-style="normal" textLength="307.60" lengthAdjust="spacingAndGlyphs">Yoyo dieting</text>
<text x="1471.00" y="447.70" font-size="56.5" font-weight="bold" font-style="normal" textLength="317.60" lengthAdjust="spacingAndGlyphs">Post-obesity</text>
<text x="1473.00" y="510.60" font-size="56.5" font-weight="bold" font-style="normal" textLength="281.80" lengthAdjust="spacingAndGlyphs">weight loss</text>
<text x="471.80" y="790.60" font-size="51" font-weight="normal" font-style="normal" textLength="77.40" lengthAdjust="spacingAndGlyphs">Gut</text>
<text x="404.40" y="848.70" font-size="51" font-weight="normal" font-style="normal" textLength="212.40" lengthAdjust="spacingAndGlyphs">dysbiosis</text>
<text x="1391.20" y="803.90" font-size="51" font-weight="normal" font-style="normal" textLength="77.20" lengthAdjust="spacingAndGlyphs">Gut</text>
<text x="1324.40" y="860.20" font-size="51" font-weight="normal" font-style="normal" textLength="210.00" lengthAdjust="spacingAndGlyphs">dysbiosis</text>
<text x="357.20" y="600.20" font-size="33.5" font-weight="normal" font-style="italic" textLength="300.40" lengthAdjust="spacingAndGlyphs">Lactobacillus reuteri</text>
<text x="101.40" y="814.00" font-size="33.5" font-weight="normal" font-style="italic" textLength="219.00" lengthAdjust="spacingAndGlyphs">Ruminococcus</text>
<text x="735.00" y="830.00" font-size="33.5" font-weight="normal" font-style="italic" textLength="195.00" lengthAdjust="spacingAndGlyphs">Desulfovibrio</text>
<text x="385.40" y="1024.00" font-size="33.5" font-weight="normal" font-style="italic" textLength="299.60" lengthAdjust="spacingAndGlyphs">Christensenella spp.</text>
<text x="1088.40" y="658.15" font-size="33.5" font-weight="normal" font-style="italic" textLength="191.80" lengthAdjust="spacingAndGlyphs">Akkermansia</text>
<text x="1313.40" y="604.10" font-size="33.5" font-weight="normal" font-style="italic" textLength="201.80" lengthAdjust="spacingAndGlyphs">Enterococcus</text>
<text x="1552.00" y="639.80" font-size="33.5" font-weight="normal" font-style="italic" textLength="141.20" lengthAdjust="spacingAndGlyphs">Klebsiella</text>
<text x="1625.80" y="715.70" font-size="33.5" font-weight="normal" font-style="italic" textLength="202.20" lengthAdjust="spacingAndGlyphs">Megasphaera</text>
<text x="1675.40" y="815.80" font-size="33.5" font-weight="normal" font-style="italic" textLength="288.00" lengthAdjust="spacingAndGlyphs">Bifidobacterium sp.</text>
<text x="1654.60" y="894.20" font-size="33.5" font-weight="normal" font-style="italic" textLength="327.60" lengthAdjust="spacingAndGlyphs">Ruminococcus faeces</text>
<text x="1586.00" y="980.15" font-size="33.5" font-weight="normal" font-style="italic" textLength="275.00" lengthAdjust="spacingAndGlyphs">Pseudobutyrivibrio</text>
<text x="1009.60" y="740.40" font-size="33.5" font-weight="normal" font-style="italic" textLength="235.00" lengthAdjust="spacingAndGlyphs">Bifidobacterium</text>
<text x="1039.40" y="816.30" font-size="33.5" font-weight="normal" font-style="italic" textLength="197.40" lengthAdjust="spacingAndGlyphs">Lactobacillus</text>
<text x="1072.20" y="892.85" font-size="33.5" font-weight="normal" font-style="italic" textLength="164.00" lengthAdjust="spacingAndGlyphs">Sellimonas</text>
<text x="1108.00" y="975.50" font-size="33.5" font-weight="normal" font-style="normal" textLength="205.00" lengthAdjust="spacingAndGlyphs">Bacteroidetes</text>
<text x="1191.80" y="1034.25" font-size="33.5" font-weight="normal" font-style="normal" textLength="156.20" lengthAdjust="spacingAndGlyphs">Firmicutes</text>
<text x="1382.20" y="1055.80" font-size="33.5" font-weight="normal" font-style="normal" textLength="216.40" lengthAdjust="spacingAndGlyphs">Proteobacteria</text>
</g>

</svg>
</body></html>
